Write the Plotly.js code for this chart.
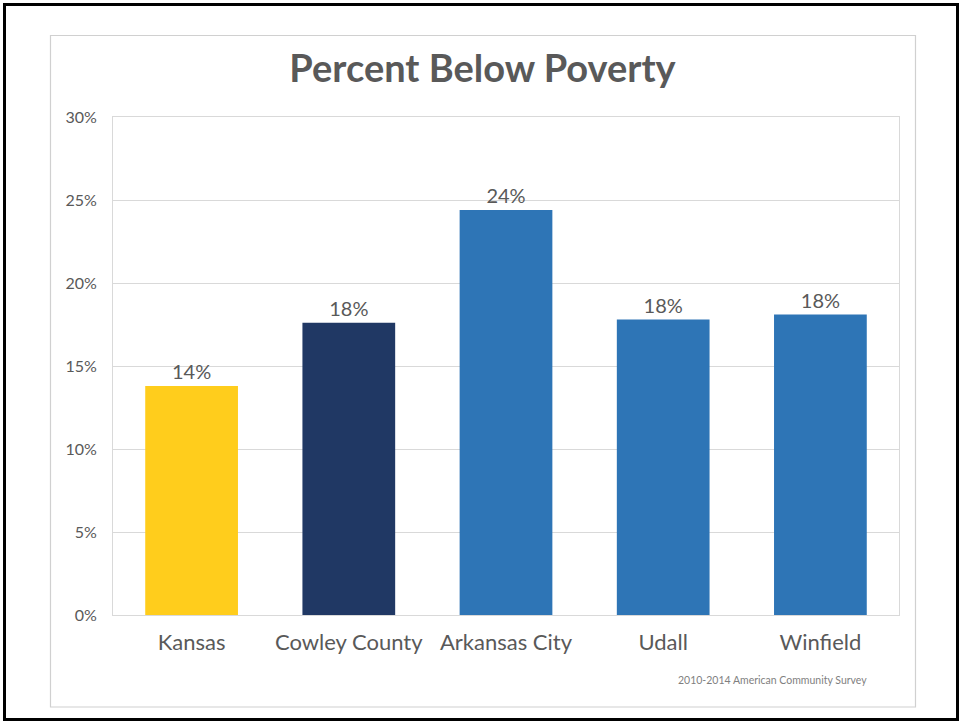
<!DOCTYPE html>
<html>
<head>
<meta charset="utf-8">
<script src="https://cdn.plot.ly/plotly-3.0.1.min.js"></script>
<style>
  html, body { margin: 0; padding: 0; background: #ffffff; }
  #chart { width: 961px; height: 721px; }
</style>
</head>
<body>
<div id="chart"></div>
<script>
// ---- data ----
const categories = ["Kansas", "Cowley County", "Arkansas City", "Udall", "Winfield"];
const percentBelowPoverty = [13.8, 17.6, 24.4, 17.8, 18.1];
const barColors = ["#FFCD1C", "#203864", "#2E75B6", "#2E75B6", "#2E75B6"];
const yTickValues = [0, 5, 10, 15, 20, 25, 30];
const yTickLabels = ["0%", "5%", "10%", "15%", "20%", "25%", "30%"];
const titleText = "Percent Below Poverty";
const sourceText = "2010-2014 American Community Survey";

// ---- layout geometry (pixels) ----
const W = 961, H = 721;
const M = { l: 113, r: 62, t: 117, b: 106 };
const pw = W - M.l - M.r, ph = H - M.t - M.b;
const px = x => (x - M.l) / pw;          // pixel -> paper x
const py = y => (H - M.b - y) / ph;      // pixel -> paper y

const trace = {
  type: "bar",
  x: categories,
  y: percentBelowPoverty,
  marker: { color: barColors, line: { width: 0 } },
  texttemplate: "%{y:.0f}%",
  textposition: "outside",
  cliponaxis: false,
  textfont: { family: "Lato, 'Liberation Sans', sans-serif", size: 20, color: "#595959" },
  hoverinfo: "none"
};

const layout = {
  width: W, height: H,
  margin: M,
  paper_bgcolor: "#ffffff",
  plot_bgcolor: "#ffffff",
  showlegend: false,
  bargap: 0.41,
  title: {
    text: titleText,
    font: { family: "Lato, 'DejaVu Sans', sans-serif", size: 38, color: "#595959", weight: "bold" },
    x: 0.5 * (50 + 915) / W, xanchor: "center", xref: "container",
    y: 1 - 69 / H, yanchor: "middle", yref: "container"
  },
  xaxis: {
    type: "category",
    showgrid: false,
    showline: true, linecolor: "#d9d9d9", linewidth: 1, mirror: true,
    ticks: "",
    tickfont: { family: "Lato, 'DejaVu Sans', sans-serif", size: 22, color: "#595959" },
    ticklabelstandoff: 8,
    zeroline: false,
    fixedrange: true
  },
  yaxis: {
    range: [0, 30],
    tickmode: "array",
    tickvals: yTickValues,
    ticktext: yTickLabels,
    showgrid: true, gridcolor: "#d9d9d9", gridwidth: 1,
    showline: true, linecolor: "#d9d9d9", linewidth: 1, mirror: true,
    zeroline: false,
    ticks: "",
    ticklabelstandoff: 12,
    tickfont: { family: "Lato, 'Liberation Sans', sans-serif", size: 16, color: "#595959" },
    fixedrange: true
  },
  shapes: [
    // outer black frame
    { type: "rect", xref: "paper", yref: "paper",
      x0: px(4.5), x1: px(957.5), y0: py(4.5), y1: py(719.5),
      line: { color: "#000000", width: 3 }, fillcolor: "rgba(0,0,0,0)", layer: "below" },
    // inner light grey chart frame
    { type: "rect", xref: "paper", yref: "paper",
      x0: px(50.5), x1: px(915.5), y0: py(35.5), y1: py(707),
      line: { color: "#d0d0d0", width: 1.2 }, fillcolor: "rgba(0,0,0,0)", layer: "below" }
  ],
  annotations: [
    { text: sourceText, xref: "paper", yref: "paper",
      x: px(869), y: py(680), xanchor: "right", yanchor: "middle",
      showarrow: false,
      font: { family: "Lato, 'DejaVu Sans', sans-serif", size: 10.5, color: "#7f7f7f" } }
  ]
};

Plotly.newPlot("chart", [trace], layout, { displayModeBar: false, staticPlot: true });
</script>
</body>
</html>
